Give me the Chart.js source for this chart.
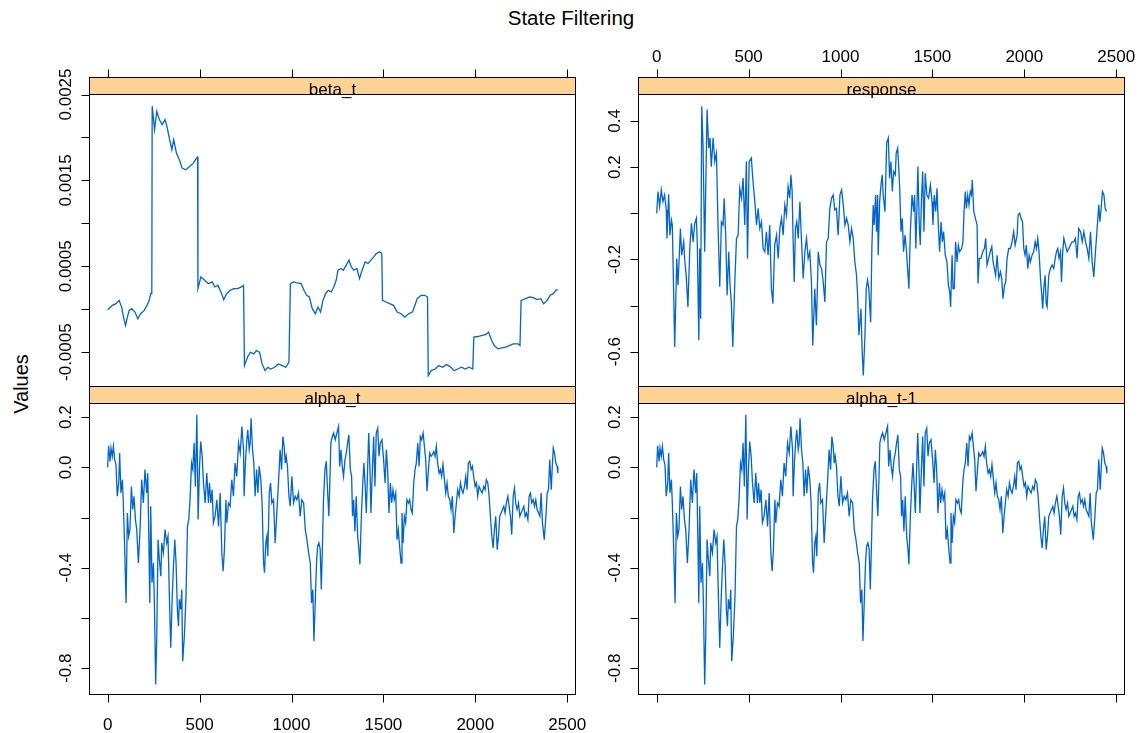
<!DOCTYPE html>
<html>
<head>
<meta charset="utf-8">
<title>State Filtering</title>
<script src="https://cdn.jsdelivr.net/npm/chart.js@4.4.0/dist/chart.umd.min.js"></script>
<style>
  html, body { margin: 0; padding: 0; background: #fff; }
  #page { position: relative; width: 1142px; height: 733px; overflow: hidden; background: #fff; }
  #page canvas { position: absolute; left: 0; top: 0; }
  .txt { position: absolute; font-family: "Liberation Sans", Arial, sans-serif; color: #000; white-space: nowrap; }
  #title { left: 0; width: 1142px; top: 6px; text-align: center; font-size: 20.5px; line-height: 24px; }
  #ylab { left: 21px; top: 384px; font-size: 20px; line-height: 22px; transform: translate(-50%, -50%) rotate(-90deg); }
</style>
</head>
<body>
<div id="page">
  <div id="title" class="txt">State Filtering</div>
  <div id="ylab" class="txt">Values</div>
  <canvas id="cBeta" width="1142" height="733"></canvas>
  <canvas id="cResp" width="1142" height="733"></canvas>
  <canvas id="cAlpha" width="1142" height="733"></canvas>
  <canvas id="cAlphaLag" width="1142" height="733"></canvas>
</div>
<script>
// time index ticks shared by every panel
const xTicks = [0, 500, 1000, 1500, 2000, 2500];

// y ticks / labelled ticks per panel
const betaTicks = [-0.0005, 0, 0.0005, 0.001, 0.0015, 0.002, 0.0025];
const betaLabelVals = [-0.0005, 0.0005, 0.0015, 0.0025];
const betaLabelText = ['-0.0005', '0.0005', '0.0015', '0.0025'];

const respTicks = [-0.6, -0.4, -0.2, 0, 0.2, 0.4];
const respLabelVals = [-0.6, -0.2, 0.2, 0.4];
const respLabelText = ['-0.6', '-0.2', '0.2', '0.4'];

const alphaTicks = [-0.8, -0.6, -0.4, -0.2, 0, 0.2];
const alphaLabelVals = [-0.8, -0.4, 0, 0.2];
const alphaLabelText = ['-0.8', '-0.4', '0.0', '0.2'];

// [t, value]
const betaPts = [
  [0,-0.06e-4],[25,0.45e-4],[45,0.64e-4],[62,1.03e-4],[76,0.25e-4],[86,-0.92e-4],[97,-1.89e-4],[107,-0.92e-4],
  [117,-0.14e-4],[131,0.06e-4],[148,-0.33e-4],[164,-1.11e-4],[179,-0.53e-4],[199,-0.14e-4],[214,0.45e-4],
  [226,1.03e-4],[234,1.81e-4],[240,1.81e-4],[242,23.64e-4],[255,20.91e-4],[267,23.05e-4],[281,22.08e-4],
  [296,21.49e-4],[312,22.08e-4],[322,21.30e-4],[337,19.74e-4],[349,18.57e-4],[359,19.74e-4],[374,18.18e-4],
  [390,17.40e-4],[405,16.43e-4],[425,16.23e-4],[446,16.62e-4],[466,17.01e-4],[483,17.60e-4],[489,17.71e-4],
  [491,2.40e-4],[507,3.76e-4],[528,3.37e-4],[548,2.98e-4],[569,3.18e-4],[583,2.59e-4],[600,2.79e-4],
  [620,1.81e-4],[631,1.11e-4],[647,1.81e-4],[666,2.20e-4],[686,2.40e-4],[707,2.40e-4],[727,2.59e-4],
  [739,2.79e-4],[744,-6.57e-4],[760,-5.59e-4],[776,-5.01e-4],[795,-5.20e-4],[809,-4.81e-4],[826,-5.01e-4],
  [840,-6.37e-4],[856,-7.15e-4],[871,-6.76e-4],[887,-6.96e-4],[908,-6.76e-4],[928,-6.37e-4],[949,-6.57e-4],
  [969,-6.76e-4],[986,-6.18e-4],[994,2.98e-4],[1011,3.18e-4],[1031,3.06e-4],[1052,2.98e-4],[1068,2.20e-4],
  [1082,1.62e-4],[1097,1.42e-4],[1113,0.06e-4],[1130,-0.53e-4],[1144,0.25e-4],[1158,-0.33e-4],[1171,1.03e-4],
  [1185,1.81e-4],[1200,2.20e-4],[1216,2.01e-4],[1230,2.59e-4],[1243,3.37e-4],[1253,4.54e-4],[1269,4.74e-4],
  [1282,4.54e-4],[1298,5.13e-4],[1313,5.71e-4],[1325,4.93e-4],[1339,4.54e-4],[1356,4.74e-4],[1370,3.57e-4],
  [1384,4.54e-4],[1401,5.51e-4],[1417,5.32e-4],[1432,5.71e-4],[1448,6.10e-4],[1462,6.49e-4],[1479,6.68e-4],
  [1491,6.49e-4],[1495,1.03e-4],[1514,0.84e-4],[1534,0.64e-4],[1555,0.45e-4],[1575,-0.33e-4],[1596,-0.53e-4],
  [1617,-0.92e-4],[1637,-0.53e-4],[1658,-0.33e-4],[1668,0.25e-4],[1684,1.23e-4],[1705,1.62e-4],[1725,1.62e-4],
  [1740,1.42e-4],[1744,-7.73e-4],[1760,-7.15e-4],[1781,-6.96e-4],[1801,-6.57e-4],[1822,-6.76e-4],[1842,-6.45e-4],
  [1863,-6.68e-4],[1884,-7.15e-4],[1904,-6.96e-4],[1925,-6.76e-4],[1945,-6.96e-4],[1966,-6.76e-4],[1986,-6.96e-4],
  [1992,-3.25e-4],[2013,-3.18e-4],[2038,-3.06e-4],[2058,-2.94e-4],[2072,-2.67e-4],[2089,-3.64e-4],[2103,-4.23e-4],
  [2124,-4.62e-4],[2144,-4.50e-4],[2165,-4.42e-4],[2185,-4.23e-4],[2206,-4.03e-4],[2233,-4.03e-4],[2243,-4.23e-4],
  [2249,1.03e-4],[2274,1.23e-4],[2294,1.42e-4],[2315,1.35e-4],[2335,1.11e-4],[2356,1.23e-4],[2372,0.64e-4],
  [2391,1.03e-4],[2407,1.62e-4],[2424,1.81e-4],[2438,2.20e-4],[2448,2.28e-4]
];

const responsePts = [
  [0,0.000],[7,0.094],[16,0.029],[25,0.101],[34,0.050],[43,0.079],[52,0.014],[56,-0.109],[65,0.082],[72,-0.095],
  [80,-0.029],[85,-0.051],[98,-0.580],[109,-0.196],[116,-0.312],[129,-0.066],[136,-0.182],[147,-0.124],[152,-0.196],
  [161,-0.276],[170,-0.406],[180,-0.153],[189,-0.044],[198,-0.124],[207,-0.044],[216,-0.022],[221,-0.138],[229,-0.551],
  [234,-0.153],[239,-0.457],[245,0.463],[252,0.297],[261,-0.167],[274,0.449],[283,0.282],[290,0.326],[297,0.202],
  [307,0.326],[316,0.224],[325,0.260],[334,-0.066],[343,-0.319],[352,-0.037],[361,-0.051],[367,0.065],[376,-0.109],
  [383,-0.356],[392,-0.167],[399,-0.312],[406,-0.385],[414,-0.580],[425,-0.298],[434,-0.109],[443,-0.095],[452,0.108],
  [461,0.065],[470,0.152],[479,-0.051],[488,0.224],[494,-0.196],[503,0.224],[515,0.239],[524,0.137],[534,0.050],
  [543,-0.051],[552,0.021],[561,-0.066],[570,-0.037],[579,-0.153],[588,-0.167],[597,-0.080],[606,-0.182],[615,-0.051],
  [624,-0.327],[632,-0.392],[642,-0.138],[652,-0.095],[661,-0.196],[670,-0.066],[679,-0.022],[688,-0.095],[697,0.036],
  [706,-0.008],[715,0.115],[724,0.065],[730,0.166],[737,0.094],[742,-0.109],[748,-0.298],[755,-0.066],[762,-0.037],
  [770,-0.109],[779,0.050],[788,-0.124],[797,-0.283],[806,-0.167],[815,-0.109],[824,-0.196],[833,-0.167],[842,-0.298],
  [849,-0.573],[860,-0.327],[869,-0.486],[879,-0.167],[888,-0.225],[897,-0.240],[906,-0.298],[915,-0.385],[924,-0.124],
  [933,-0.109],[942,0.021],[951,0.065],[960,0.079],[969,0.014],[978,0.021],[987,-0.095],[997,0.079],[1006,0.101],
  [1015,0.036],[1024,-0.051],[1033,-0.022],[1042,-0.051],[1051,-0.124],[1060,-0.066],[1069,-0.109],[1078,-0.211],
  [1087,-0.269],[1093,-0.356],[1100,-0.529],[1111,-0.414],[1118,-0.602],[1124,-0.703],[1133,-0.529],[1140,-0.327],
  [1147,-0.290],[1154,-0.327],[1164,-0.472],[1171,-0.138],[1178,0.036],[1183,-0.051],[1191,0.079],[1196,-0.080],
  [1202,0.079],[1205,-0.182],[1213,0.050],[1220,0.123],[1227,0.166],[1232,0.079],[1242,0.007],[1251,0.304],[1260,0.326],
  [1267,0.152],[1274,0.224],[1282,0.094],[1289,0.181],[1298,0.166],[1303,0.260],[1311,0.282],[1316,0.210],[1322,0.108],
  [1329,-0.080],[1336,-0.022],[1343,-0.167],[1351,-0.095],[1358,-0.153],[1365,-0.240],[1372,-0.327],[1380,-0.080],
  [1389,0.079],[1398,0.007],[1403,0.079],[1410,-0.153],[1416,0.036],[1421,0.202],[1429,-0.066],[1434,-0.138],[1440,0.050],
  [1447,0.181],[1454,-0.080],[1461,0.173],[1470,0.079],[1479,0.065],[1489,0.123],[1498,0.050],[1503,-0.051],[1510,0.079],
  [1518,0.007],[1525,0.108],[1532,-0.051],[1539,-0.167],[1547,-0.037],[1554,-0.124],[1561,-0.080],[1570,-0.182],
  [1579,-0.211],[1587,-0.312],[1594,-0.341],[1599,-0.406],[1607,-0.182],[1612,-0.327],[1619,-0.327],[1626,-0.124],
  [1634,-0.211],[1641,-0.138],[1648,-0.167],[1659,-0.153],[1666,-0.124],[1672,0.007],[1679,0.094],[1685,0.021],
  [1692,0.079],[1699,0.036],[1706,0.094],[1712,0.079],[1717,0.144],[1725,0.007],[1734,-0.022],[1743,-0.051],
  [1748,-0.305],[1755,-0.196],[1764,-0.196],[1774,-0.167],[1783,-0.153],[1790,-0.109],[1797,-0.225],[1806,-0.196],
  [1815,-0.167],[1823,-0.145],[1830,-0.211],[1837,-0.240],[1844,-0.269],[1852,-0.182],[1861,-0.283],[1870,-0.254],
  [1877,-0.283],[1884,-0.370],[1892,-0.312],[1899,-0.298],[1906,-0.196],[1915,-0.153],[1924,-0.153],[1933,-0.124],
  [1942,-0.080],[1950,-0.138],[1961,-0.095],[1966,-0.008],[1975,0.000],[1982,-0.022],[1990,-0.037],[1997,-0.153],
  [2004,-0.182],[2011,-0.138],[2019,-0.240],[2026,-0.182],[2033,-0.211],[2042,-0.182],[2051,-0.167],[2059,-0.124],
  [2066,-0.153],[2073,-0.109],[2080,-0.167],[2088,-0.283],[2095,-0.356],[2100,-0.414],[2106,-0.327],[2113,-0.269],
  [2119,-0.392],[2124,-0.406],[2133,-0.269],[2142,-0.240],[2151,-0.225],[2160,-0.240],[2168,-0.196],[2175,-0.167],
  [2182,-0.153],[2189,-0.196],[2197,-0.167],[2202,-0.298],[2209,-0.167],[2215,-0.109],[2224,-0.138],[2233,-0.167],
  [2242,-0.153],[2251,-0.138],[2260,-0.124],[2269,-0.124],[2278,-0.109],[2287,-0.196],[2296,-0.066],[2306,-0.080],
  [2315,-0.124],[2324,-0.080],[2333,-0.124],[2342,-0.153],[2351,-0.196],[2360,-0.080],[2369,-0.211],[2378,-0.276],
  [2387,-0.167],[2396,-0.066],[2405,0.036],[2411,-0.037],[2418,0.021],[2425,0.094],[2433,0.079],[2440,0.021],[2447,0.007]
];

const alphaPts = [
  [0,0.000],[5,0.086],[13,0.024],[18,0.077],[25,0.044],[31,0.084],[38,0.031],[45,0.011],[52,-0.115],[60,-0.062],
  [65,0.057],[72,-0.102],[80,-0.049],[85,-0.142],[92,-0.314],[100,-0.540],[107,-0.182],[114,-0.275],[121,-0.248],
  [129,-0.076],[136,-0.168],[143,-0.115],[151,-0.208],[158,-0.248],[167,-0.381],[176,-0.248],[185,-0.049],[194,-0.142],
  [203,-0.009],[212,-0.102],[218,-0.023],[223,-0.248],[229,-0.540],[234,-0.155],[241,-0.460],[249,-0.381],[254,-0.540],
  [261,-0.865],[267,-0.672],[274,-0.288],[281,-0.367],[289,-0.434],[294,-0.301],[303,-0.341],[312,-0.248],[321,-0.301],
  [328,-0.275],[336,-0.526],[343,-0.719],[350,-0.540],[357,-0.407],[365,-0.288],[372,-0.381],[379,-0.566],[385,-0.633],
  [390,-0.526],[397,-0.566],[403,-0.487],[408,-0.772],[417,-0.672],[426,-0.513],[434,-0.235],[441,-0.208],[448,-0.129],
  [456,0.017],[463,-0.009],[470,0.097],[477,-0.076],[485,0.210],[492,-0.208],[499,-0.009],[506,0.103],[514,0.044],
  [521,-0.062],[530,-0.142],[539,-0.023],[548,-0.142],[554,-0.062],[561,-0.142],[568,-0.089],[575,-0.221],[584,-0.195],
  [594,-0.129],[603,-0.235],[612,-0.102],[621,-0.341],[628,-0.414],[635,-0.328],[643,-0.129],[648,-0.221],[657,-0.142],
  [666,-0.155],[675,-0.049],[684,-0.115],[693,0.017],[702,-0.036],[712,0.097],[721,0.057],[730,0.163],[739,0.070],
  [742,-0.115],[750,0.031],[757,0.110],[762,0.150],[770,0.070],[775,0.097],[780,0.196],[788,0.070],[795,0.017],
  [802,-0.115],[810,-0.009],[817,-0.102],[824,0.004],[833,-0.049],[840,-0.142],[848,-0.381],[853,-0.420],[860,-0.301],
  [866,-0.275],[871,-0.354],[879,-0.102],[886,-0.062],[893,-0.142],[902,-0.129],[911,-0.301],[918,-0.208],[926,-0.102],
  [931,-0.036],[938,0.070],[946,-0.009],[953,0.123],[960,0.084],[966,0.017],[971,0.044],[978,0.004],[986,-0.115],
  [993,-0.155],[1002,-0.036],[1011,-0.142],[1020,-0.115],[1029,-0.129],[1038,-0.102],[1047,-0.195],[1056,-0.129],
  [1066,-0.142],[1075,-0.248],[1084,-0.288],[1093,-0.341],[1102,-0.381],[1109,-0.540],[1116,-0.487],[1122,-0.692],
  [1129,-0.540],[1136,-0.381],[1142,-0.314],[1149,-0.301],[1156,-0.328],[1162,-0.487],[1169,-0.288],[1174,-0.129],
  [1182,-0.009],[1189,0.024],[1196,-0.089],[1203,-0.195],[1209,-0.049],[1214,0.097],[1222,0.123],[1229,0.137],
  [1238,0.110],[1247,0.137],[1256,0.163],[1262,0.004],[1269,0.070],[1276,0.004],[1283,-0.036],[1291,0.031],[1298,0.057],
  [1305,0.097],[1312,0.130],[1320,-0.009],[1327,-0.036],[1332,-0.195],[1338,-0.129],[1345,-0.255],[1352,-0.115],
  [1360,-0.275],[1367,-0.328],[1372,-0.387],[1380,-0.195],[1387,-0.076],[1394,0.017],[1400,-0.062],[1407,-0.182],
  [1414,-0.009],[1420,0.137],[1427,-0.009],[1432,-0.182],[1440,-0.009],[1447,0.123],[1454,-0.076],[1461,0.137],
  [1469,0.156],[1476,0.044],[1483,0.097],[1492,0.110],[1501,0.031],[1509,-0.062],[1516,0.070],[1523,-0.009],
  [1530,-0.182],[1538,-0.062],[1545,-0.142],[1552,-0.089],[1559,-0.129],[1567,-0.102],[1574,-0.288],[1581,-0.248],
  [1588,-0.314],[1596,-0.381],[1601,-0.182],[1607,-0.301],[1614,-0.195],[1621,-0.221],[1628,-0.129],[1636,-0.142],
  [1643,-0.129],[1650,-0.168],[1657,-0.182],[1665,-0.062],[1672,-0.009],[1679,0.017],[1687,0.097],[1694,0.004],
  [1701,0.123],[1708,0.110],[1716,0.137],[1723,0.084],[1730,0.031],[1737,-0.095],[1745,-0.009],[1752,0.057],
  [1759,0.044],[1766,0.050],[1774,0.063],[1781,0.044],[1788,0.084],[1795,0.017],[1803,-0.023],[1810,-0.009],
  [1817,-0.036],[1824,0.011],[1832,-0.049],[1839,-0.102],[1846,-0.062],[1853,-0.115],[1861,-0.129],[1868,-0.168],
  [1875,-0.115],[1883,-0.261],[1890,-0.195],[1897,-0.142],[1904,-0.089],[1912,-0.115],[1919,-0.062],[1926,-0.089],
  [1933,-0.102],[1941,-0.076],[1948,-0.036],[1955,-0.089],[1962,0.017],[1970,0.024],[1977,-0.009],[1984,0.004],
  [1991,-0.036],[1999,-0.076],[2006,-0.062],[2013,-0.115],[2020,-0.076],[2028,-0.089],[2037,-0.102],[2046,-0.076],
  [2053,-0.089],[2060,-0.049],[2068,-0.062],[2075,-0.115],[2082,-0.195],[2090,-0.275],[2097,-0.321],[2104,-0.248],
  [2111,-0.195],[2119,-0.328],[2126,-0.275],[2133,-0.195],[2140,-0.182],[2148,-0.168],[2155,-0.155],[2162,-0.182],
  [2169,-0.142],[2177,-0.115],[2184,-0.155],[2191,-0.195],[2198,-0.268],[2206,-0.115],[2213,-0.082],[2220,-0.142],
  [2227,-0.168],[2235,-0.142],[2242,-0.195],[2249,-0.182],[2257,-0.168],[2264,-0.155],[2271,-0.195],[2278,-0.182],
  [2286,-0.208],[2293,-0.115],[2300,-0.102],[2307,-0.142],[2315,-0.129],[2322,-0.155],[2329,-0.129],[2336,-0.168],
  [2344,-0.182],[2351,-0.195],[2358,-0.102],[2365,-0.221],[2375,-0.288],[2384,-0.195],[2391,-0.102],[2398,-0.089],
  [2405,0.031],[2413,-0.089],[2418,-0.009],[2424,0.077],[2431,0.057],[2438,0.017],[2445,0.004],[2449,-0.023]
];
// alpha_t-1 is the same path one step later; the picture shows it identical
const alphaLagPts = alphaPts;

const LINE_COLOR = '#0066cc';
const STRIP_FILL = '#ffd394';
const FONT = '"Liberation Sans", Arial, sans-serif';
const STRIP_H = 17;
const TICK_LEN = 8;

// draws strip, panel box, ticks and labels around each panel
const panelDeco = {
  id: 'panelDeco',
  afterDraw(chart, args, o) {
    const ctx = chart.ctx;
    const a = chart.chartArea;
    const xs = chart.scales.x;
    const ys = chart.scales.y;
    const stripTop = a.top - STRIP_H;
    ctx.save();

    // strip
    ctx.fillStyle = STRIP_FILL;
    ctx.fillRect(a.left, stripTop, a.right - a.left, STRIP_H);
    ctx.strokeStyle = '#000';
    ctx.lineWidth = 1;
    ctx.strokeRect(a.left, stripTop, a.right - a.left, STRIP_H);
    ctx.strokeRect(a.left, a.top, a.right - a.left, a.bottom - a.top);

    ctx.fillStyle = '#000';
    ctx.font = '17px ' + FONT;
    ctx.textAlign = 'center';
    ctx.textBaseline = 'alphabetic';
    ctx.fillText(o.strip, (a.left + a.right) / 2, a.top + 0.5);

    // x ticks
    ctx.beginPath();
    xTicks.forEach(v => {
      const px = Math.round(xs.getPixelForValue(v)) + 0.5;
      if (o.xSide === 'top') {
        ctx.moveTo(px, stripTop);
        ctx.lineTo(px, stripTop - TICK_LEN);
      } else {
        ctx.moveTo(px, a.bottom);
        ctx.lineTo(px, a.bottom + TICK_LEN);
      }
    });
    // y ticks
    o.yTicks.forEach(v => {
      const py = Math.round(ys.getPixelForValue(v)) + 0.5;
      ctx.moveTo(a.left, py);
      ctx.lineTo(a.left - TICK_LEN, py);
    });
    ctx.stroke();

    if (o.xLabels) {
      xTicks.forEach(v => {
        const px = xs.getPixelForValue(v);
        const py = o.xSide === 'top' ? stripTop - 16 : a.bottom + 35.5;
        ctx.fillText(String(v), px, py);
      });
    }

    // rotated y labels
    o.yLabVals.forEach((v, i) => {
      const py = ys.getPixelForValue(v);
      ctx.save();
      ctx.translate(a.left - 18.5, py);
      ctx.rotate(-Math.PI / 2);
      ctx.fillText(o.yLabText[i], 0, 0);
      ctx.restore();
    });
    ctx.restore();
  }
};

const panels = [
  { id: 'cBeta', strip: 'beta_t', pts: betaPts, yMin: -0.0009, yMax: 0.0025,
    yTicks: betaTicks, yLabVals: betaLabelVals, yLabText: betaLabelText,
    pad: { left: 89.5, top: 94.5, right: 566.5, bottom: 346.5 }, xSide: 'top', xLabels: false },
  { id: 'cResp', strip: 'response', pts: responsePts, yMin: -0.751, yMax: 0.5145,
    yTicks: respTicks, yLabVals: respLabelVals, yLabText: respLabelText,
    pad: { left: 638.5, top: 94.5, right: 17.5, bottom: 346.5 }, xSide: 'top', xLabels: true },
  { id: 'cAlpha', strip: 'alpha_t', pts: alphaPts, yMin: -0.905, yMax: 0.2545,
    yTicks: alphaTicks, yLabVals: alphaLabelVals, yLabText: alphaLabelText,
    pad: { left: 89.5, top: 403.5, right: 566.5, bottom: 38.5 }, xSide: 'bottom', xLabels: true },
  { id: 'cAlphaLag', strip: 'alpha_t-1', pts: alphaLagPts, yMin: -0.905, yMax: 0.2545,
    yTicks: alphaTicks, yLabVals: alphaLabelVals, yLabText: alphaLabelText,
    pad: { left: 638.5, top: 403.5, right: 17.5, bottom: 38.5 }, xSide: 'bottom', xLabels: false }
];

panels.forEach(p => {
  new Chart(document.getElementById(p.id), {
    type: 'line',
    data: {
      datasets: [{
        data: p.pts.map(d => ({ x: d[0], y: d[1] })),
        borderColor: LINE_COLOR,
        borderWidth: 1.3,
        pointRadius: 0,
        tension: 0,
        fill: false
      }]
    },
    options: {
      responsive: false,
      animation: false,
      events: [],
      layout: { padding: p.pad },
      plugins: {
        legend: { display: false },
        tooltip: { enabled: false },
        panelDeco: p
      },
      scales: {
        x: { type: 'linear', min: -99, max: 2545, display: false },
        y: { type: 'linear', min: p.yMin, max: p.yMax, display: false }
      }
    },
    plugins: [panelDeco]
  });
});
</script>
</body>
</html>
